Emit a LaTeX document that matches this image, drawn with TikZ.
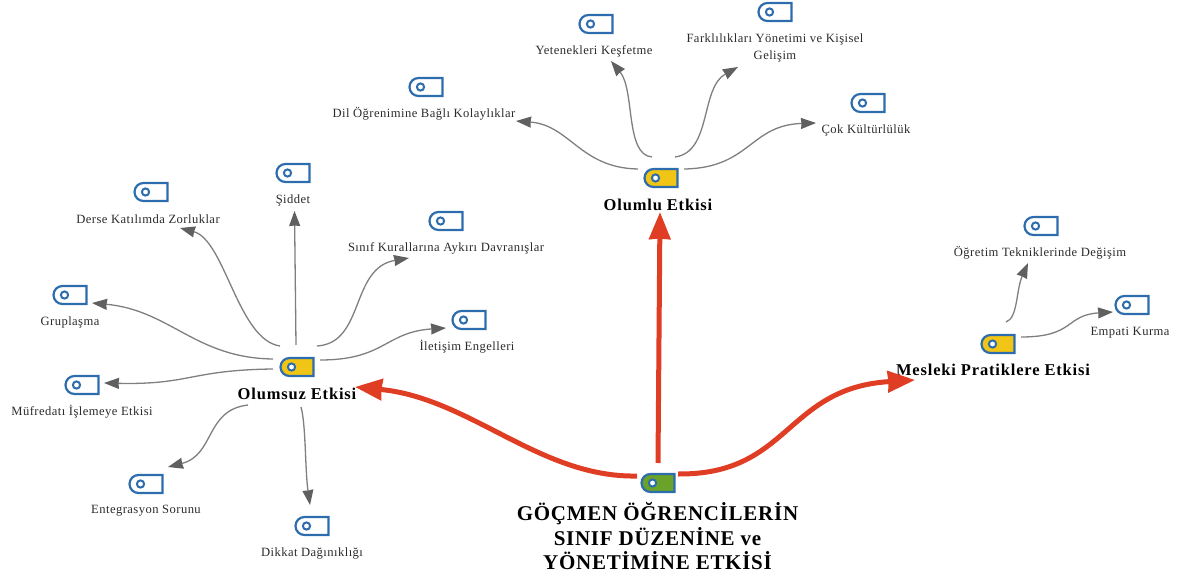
\documentclass[tikz,border=0pt]{standalone}
\usepackage{fontspec}
\setmainfont{Liberation Serif}
\newfontfamily\leaffont[LetterSpace=3.5]{Liberation Serif}
\newfontfamily\branchfont[LetterSpace=5]{Liberation Serif}
\newfontfamily\rootfont[LetterSpace=3.5]{Liberation Serif}
\usepackage{tikz}
\usetikzlibrary{arrows.meta,shapes.misc}
\definecolor{tagblue}{HTML}{2E6DAD}
\definecolor{tagyellow}{HTML}{F0C515}
\definecolor{taggreen}{HTML}{6AA32A}
\definecolor{flowred}{HTML}{E03E24}
\definecolor{softgray}{HTML}{7F7F7F}
\definecolor{headgray}{HTML}{606060}
\definecolor{labelgray}{HTML}{2B2B2B}

\begin{document}
\begin{tikzpicture}[
x=1pt,y=-1pt,
tag/.style={rounded rectangle,rounded rectangle east arc=none,draw=tagblue,line width=2.2pt,fill=white,
  minimum width=33pt,minimum height=18pt,inner sep=0pt,
  path picture={\draw[tagblue,line width=2pt,fill=white] ([xshift=11pt]path picture bounding box.west) circle (3.6pt);}},
maintag/.style={tag,fill=tagyellow},
roottag/.style={tag,fill=taggreen},
leaf/.style={font=\leaffont\fontsize{12.6}{17}\selectfont,text=labelgray,align=center,inner sep=0pt,yshift=-1pt},
branch/.style={font=\branchfont\fontsize{16.5}{18}\selectfont\bfseries,inner sep=0pt},
softlink/.style={-{Stealth[length=15pt,width=11pt,inset=0.5pt,color=headgray,fill=headgray]},draw=softgray,line width=1.3pt},
flow/.style={-{Stealth[length=27pt,width=21pt,inset=0.5pt]},flowred,line width=5pt}
]
\useasboundingbox (0,0) rectangle (1181,575);

% Root
\node[roottag] (root) at (658,483) {};
\node[font=\rootfont\fontsize{21}{24.5}\selectfont\bfseries,align=center,inner sep=0pt] (rootyazi) at (657.5,536)
{GÖÇMEN ÖĞRENCİLERİN\\SINIF DÜZENİNE ve\\YÖNETİMİNE ETKİSİ};

% Branches
\node[maintag] (olumsuz) at (297,367) {};
\node[branch] (olumsuzyazi) at (297,394) {Olumsuz Etkisi};
\node[maintag] (olumlu) at (661,178) {};
\node[branch] (olumluyazi) at (658,205) {Olumlu Etkisi};
\node[maintag] (mesleki) at (998,344) {};
\node[branch] (meslekiyazi) at (993,370) {Mesleki Pratiklere Etkisi};

% Leaves of Olumsuz Etkisi
\node[tag] (derse) at (151,192) {};
\node[leaf] (derseyazi) at (148,218) {Derse Katılımda Zorluklar};
\node[tag] (siddet) at (293,173) {};
\node[leaf] (siddetyazi) at (293,199) {Şiddet};
\node[tag] (sinif) at (446,221) {};
\node[leaf] (sinifyazi) at (446,247) {Sınıf Kurallarına Aykırı Davranışlar};
\node[tag] (iletisim) at (469,320) {};
\node[leaf] (iletisimyazi) at (467,346) {İletişim Engelleri};
\node[tag] (grup) at (70,295) {};
\node[leaf] (grupyazi) at (70,321) {Gruplaşma};
\node[tag] (mufredat) at (82,385) {};
\node[leaf] (mufredatyazi) at (82,411) {Müfredatı İşlemeye Etkisi};
\node[tag] (entegre) at (146,484) {};
\node[leaf] (entegreyazi) at (146,510) {Entegrasyon Sorunu};
\node[tag] (dikkat) at (312,526) {};
\node[leaf] (dikkatyazi) at (312,552) {Dikkat Dağınıklığı};

% Leaves of Olumlu Etkisi
\node[tag] (dil) at (426,87) {};
\node[leaf] (dilyazi) at (424,113) {Dil Öğrenimine Bağlı Kolaylıklar};
\node[tag] (yetenek) at (596,24) {};
\node[leaf] (yetenekyazi) at (594,50) {Yetenekleri Keşfetme};
\node[tag] (fark) at (775,12) {};
\node[leaf] (farkyazi) at (775,46.5) {Farklılıkları Yönetimi ve Kişisel\\Gelişim};
\node[tag] (kultur) at (868,103) {};
\node[leaf] (kulturyazi) at (866,129) {Çok Kültürlülük};

% Leaves of Mesleki Pratiklere Etkisi
\node[tag] (ogretim) at (1041,226) {};
\node[leaf] (ogretimyazi) at (1040,252) {Öğretim Tekniklerinde Değişim};
\node[tag] (empati) at (1132,305) {};
\node[leaf] (empatiyazi) at (1130,332) {Empati Kurma};

% Red arrows
\draw[flow] ([shift={(-21,-7)}]root.center) .. controls (540,478) and (470,398) .. ([shift={(58,20)}]olumsuz.center);
\draw[flow] ([shift={(0,-20)}]root.center) -- ([shift={(-1,34)}]olumlu.center);
\draw[flow] ([shift={(20,-9)}]root.center) .. controls (790,475) and (785,388) .. ([shift={(-83,36)}]mesleki.center);

% Gray arrows
\draw[softlink] ([shift={(-17,-21)}]olumsuz.center) .. controls (238,340) and (225,240) .. ([shift={(29,36)}]derse.center);
\draw[softlink] ([shift={(-1,-22)}]olumsuz.center) -- ([shift={(1.5,38)}]siddet.center);
\draw[softlink] ([shift={(20,-21)}]olumsuz.center) .. controls (365,343) and (350,268) .. ([shift={(-37,37)}]sinif.center);
\draw[softlink] ([shift={(23,-7)}]olumsuz.center) .. controls (385,360) and (385,332) .. ([shift={(-23,8)}]iletisim.center);
\draw[softlink] ([shift={(-24,-8)}]olumsuz.center) .. controls (195,358) and (170,310) .. ([shift={(22,8)}]grup.center);
\draw[softlink] ([shift={(-24,2)}]olumsuz.center) .. controls (190,370) and (190,385) .. ([shift={(22,-2)}]mufredat.center);
\draw[softlink] ([shift={(-49,38)}]olumsuz.center) .. controls (205,410) and (215,455) .. ([shift={(22,-17)}]entegre.center);
\draw[softlink] ([shift={(4,40)}]olumsuz.center) .. controls (306,425) and (305,470) .. ([shift={(-2,-21)}]dikkat.center);

\draw[softlink] ([shift={(-23,-9)}]olumlu.center) .. controls (580,168) and (570,125) .. ([shift={(90,34)}]dil.center);
\draw[softlink] ([shift={(-9,-21)}]olumlu.center) .. controls (625,155) and (635,90) .. ([shift={(15,37)}]yetenek.center);
\draw[softlink] ([shift={(14,-21)}]olumlu.center) .. controls (712,152) and (700,88) .. ([shift={(-37,55)}]fark.center);
\draw[softlink] ([shift={(23,-9)}]olumlu.center) .. controls (750,168) and (750,125) .. ([shift={(-52,20)}]kultur.center);

\draw[softlink] ([shift={(8,-22)}]mesleki.center) .. controls (1018,318) and (1016,290) .. ([shift={(-13,37)}]ogretim.center);
\draw[softlink] ([shift={(23,-7)}]mesleki.center) .. controls (1075,337) and (1065,315) .. ([shift={(-19,7)}]empati.center);
\end{tikzpicture}
\end{document}
